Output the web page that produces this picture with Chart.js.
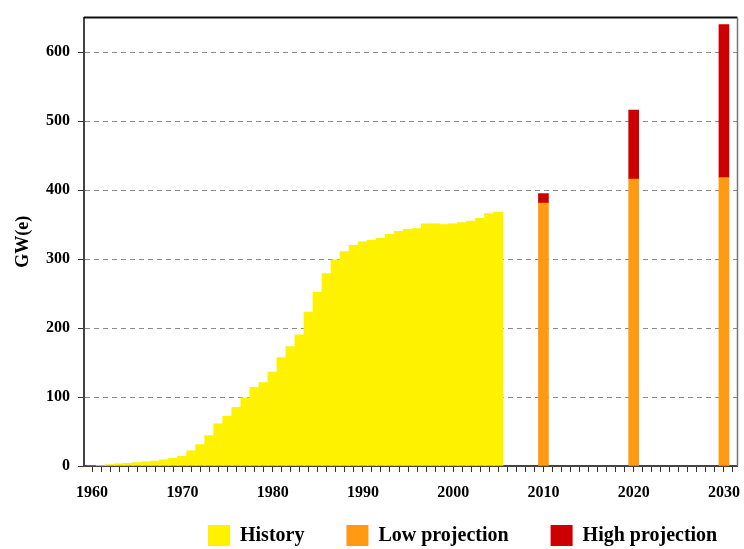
<!DOCTYPE html>
<html>
<head>
<meta charset="utf-8">
<script src="https://cdn.jsdelivr.net/npm/chart.js@4.4.1/dist/chart.umd.min.js"></script>
<style>
  html, body { margin: 0; padding: 0; background: #fff; }
  canvas { display: block; }
</style>
</head>
<body>
<canvas id="chart" width="744" height="549" style="width:744px;height:549px"></canvas>
<script>
// history, GW(e) per year
const historyYears = [
  1960, 1961, 1962, 1963, 1964, 1965, 1966, 1967, 1968, 1969,
  1970, 1971, 1972, 1973, 1974, 1975, 1976, 1977, 1978, 1979,
  1980, 1981, 1982, 1983, 1984, 1985, 1986, 1987, 1988, 1989,
  1990, 1991, 1992, 1993, 1994, 1995, 1996, 1997, 1998, 1999,
  2000, 2001, 2002, 2003, 2004, 2005
];
const historyValues = [
  0, 1, 2, 3, 4, 5, 6, 7, 9, 11,
  14, 22, 31, 44, 61, 72, 85, 99, 114, 121,
  136, 157, 173, 190, 223, 252, 279, 299, 311, 320,
  325, 327, 330, 336, 340, 343, 344, 351, 351, 350,
  351, 353, 355, 359, 366, 368
];

// projections
const projYears = [2010, 2020, 2030];
const lowProjection = [381, 416, 418];
const highProjection = [395, 516, 640];

const decadeLabels = [1960, 1970, 1980, 1990, 2000, 2010, 2020, 2030];

const serif = "'Liberation Serif', 'Times New Roman', serif";

// рамка сверху и справа + положение легенды
const framePlugin = {
  id: 'frame',
  afterLayout(chart) {
    const lg = chart.legend;
    lg.left = 166;
    lg.right = lg.left + 640;
    lg.top = 483;
    lg.bottom = lg.top + lg.height;
  },
  afterDraw(chart) {
    const { ctx, chartArea: a } = chart;
    ctx.save();
    ctx.strokeStyle = '#111';
    ctx.lineWidth = 2;
    ctx.beginPath();
    ctx.moveTo(a.left, a.top);
    ctx.lineTo(a.right, a.top);
    ctx.stroke();
    ctx.strokeStyle = '#777';
    ctx.lineWidth = 1.5;
    ctx.beginPath();
    ctx.moveTo(a.right, a.top);
    ctx.lineTo(a.right, a.bottom);
    ctx.stroke();
    ctx.restore();
  }
};

const ctx = document.getElementById('chart').getContext('2d');
const chart = new Chart(ctx, {
  type: 'bar',
  data: {
    datasets: [
      {
        label: 'History',
        data: historyYears.map((x, i) => ({ x: x, y: historyValues[i] })),
        backgroundColor: '#fff200',
        barThickness: 9.6,
        grouped: false,
        stack: 's'
      },
      {
        label: 'Low projection',
        data: projYears.map((x, i) => ({ x: x, y: lowProjection[i] })),
        backgroundColor: '#ff9a12',
        barThickness: 10,
        grouped: false,
        stack: 's'
      },
      {
        label: 'High projection',
        data: projYears.map((x, i) => ({ x: x, y: highProjection[i] - lowProjection[i] })),
        backgroundColor: '#cc0000',
        barThickness: 10,
        grouped: false,
        stack: 's'
      }
    ]
  },
  options: {
    responsive: false,
    animation: false,
    devicePixelRatio: 1,
    layout: { padding: { top: 10, right: 3, left: 0, bottom: -32 } },
    plugins: {
      tooltip: { enabled: false },
      legend: {
        position: 'bottom',
        align: 'start',
        labels: {
          boxWidth: 22,
          boxHeight: 21,
          padding: 42,
          color: '#000',
          font: { family: serif, size: 20, weight: 'bold' }
        }
      }
    },
    scales: {
      x: {
        type: 'linear',
        min: 1959.1,
        max: 2031.5,
        offset: false,
        grid: {
          offset: false,
          drawOnChartArea: false,
          drawTicks: true,
          tickLength: 6,
          tickColor: '#333',
          tickWidth: 1
        },
        border: { color: '#444', width: 2 },
        ticks: {
          stepSize: 1,
          autoSkip: false,
          includeBounds: false,
          maxRotation: 0,
          minRotation: 0,
          padding: 11,
          color: '#000',
          font: { family: serif, size: 16, weight: 'bold' },
          callback: (v) => decadeLabels.includes(v) ? String(v) : ''
        },
        afterFit: (scale) => { scale.height = 42; }
      },
      y: {
        stacked: true,
        min: 0,
        max: 650,
        grid: {
          color: '#8a8a8a',
          lineWidth: 1,
          drawTicks: true,
          tickLength: 6,
          tickColor: '#333',
          tickBorderDash: []
        },
        border: { color: '#444', width: 2, dash: [5, 4] },
        ticks: {
          stepSize: 100,
          includeBounds: false,
          padding: 8,
          color: '#000',
          font: { family: serif, size: 16, weight: 'bold' },
          callback: (v) => v % 100 === 0 ? String(v) : ''
        },
        title: {
          display: true,
          text: 'GW(e)',
          color: '#000',
          padding: { top: 13, bottom: 0 },
          font: { family: serif, size: 18, weight: 'bold' }
        },
        afterFit: (scale) => { scale.width = 84; }
      }
    }
  },
  plugins: [framePlugin]
});
</script>
</body>
</html>
